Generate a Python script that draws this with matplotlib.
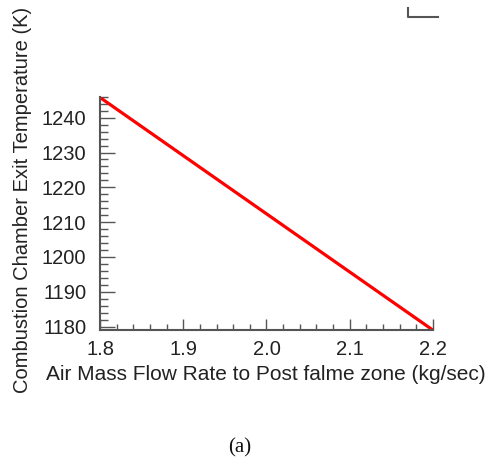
import matplotlib
matplotlib.use("Agg")
import matplotlib.pyplot as plt
from matplotlib.ticker import MultipleLocator

# air mass flow to post flame zone vs exit temperature
flow = [1.8, 2.2]
temp = [1245.8, 1179.0]

xticks = [1.8, 1.9, 2.0, 2.1, 2.2]
yticks = [1180, 1190, 1200, 1210, 1220, 1230, 1240]

plt.rcParams['font.family'] = ['Liberation Sans', 'DejaVu Sans']

fig = plt.figure(figsize=(4.88, 4.61), dpi=100)
ax = fig.add_axes([0.205, 0.284, 0.682, 0.506])

ax.plot(flow, temp, color="#ff0000", linewidth=2.3, solid_capstyle="butt")

ax.set_xlim(1.8, 2.2)
ax.set_ylim(1179, 1246)
ax.set_xticks(xticks)
ax.set_xticklabels(["%.1f" % v for v in xticks])
ax.set_yticks(yticks)
ax.xaxis.set_minor_locator(MultipleLocator(0.02))
ax.yaxis.set_minor_locator(MultipleLocator(2))

for s in ["top", "right"]:
    ax.spines[s].set_visible(False)
for s in ["left", "bottom"]:
    ax.spines[s].set_color("#555555")
    ax.spines[s].set_linewidth(1.5)

ax.tick_params(axis="both", which="both", direction="in", color="#555555",
               labelsize=14.5, labelcolor="#222222", width=1)
ax.tick_params(axis="y", which="major", length=11, pad=10)
ax.tick_params(axis="y", which="minor", length=6)
ax.tick_params(axis="x", which="major", length=8, pad=7)
ax.tick_params(axis="x", which="minor", length=4)

ax.set_xlabel("Air Mass Flow Rate to Post falme zone (kg/sec)", fontsize=15,
              color="#222222")
ax.set_ylabel("Combustion Chamber Exit Temperature (K)", fontsize=14.5,
              color="#222222")
ax.xaxis.set_label_coords(0.498, -0.150)
ax.yaxis.set_label_coords(-0.205, 0.558)

# leftover corner mark at top right
fig.add_artist(plt.Line2D([0.837, 0.837, 0.898], [0.983, 0.964, 0.964],
                          color="#555555", linewidth=1.5))

fig.text(0.492, 0.028, "(a)", fontsize=15, family="Liberation Serif",
         ha="center", va="center", color="#111111")

fig.savefig("out.png", dpi=100)
